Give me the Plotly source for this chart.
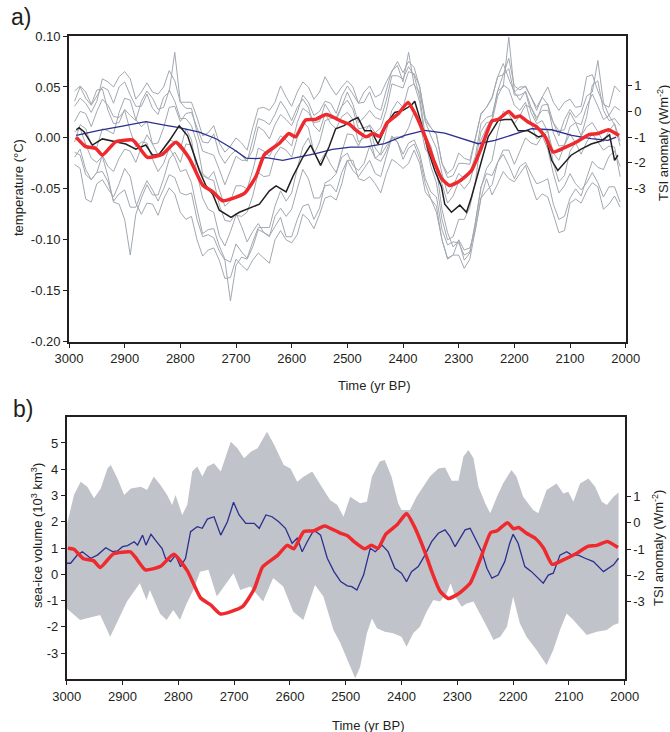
import plotly.graph_objects as go

# ---------------- Panel a: temperature ensemble ----------------
member_years = [2990, 2980, 2970, 2960, 2950, 2940, 2930, 2920, 2910, 2900,
                2890, 2880, 2870, 2860, 2850, 2840, 2830, 2820, 2810, 2800,
                2790, 2780, 2770, 2760, 2750, 2740, 2730, 2720, 2710, 2700,
                2690, 2680, 2670, 2660, 2650, 2640, 2630, 2620, 2610, 2600,
                2590, 2580, 2570, 2560, 2550, 2540, 2530, 2520, 2510, 2500,
                2490, 2480, 2470, 2460, 2450, 2440, 2430, 2420, 2410, 2400,
                2390, 2380, 2370, 2360, 2350, 2340, 2330, 2320, 2310, 2300,
                2290, 2280, 2270, 2260, 2250, 2240, 2230, 2220, 2210, 2200,
                2190, 2180, 2170, 2160, 2150, 2140, 2130, 2120, 2110, 2100,
                2090, 2080, 2070, 2060, 2050, 2040, 2030, 2020, 2010]

# ensemble members, in 10^-3 degC
member_1 = [36, 50, 39, 32, 41, 50, 47, 34, 50, 55, 42, 31, 31, 43, 29, 23, 40, 45, 84, 35,
            29, 29, 5, -13, -15, -17, -31, -46, -32, -18, -22, -22, -12, 11, 7, -1, 13, 23, 18, 12,
            25, 42, 35, 22, 26, 36, 34, 24, 41, 51, 43, 34, 35, 45, 30, 27, 47, 66, 71, 55,
            84, 52, 45, 16, 2, -10, -35, -55, -47, -35, -40, -34, -18, 14, 20, 22, 46, 50, 99, 45,
            37, 46, 30, 20, 27, 27, 15, 2, 18, 28, 20, 25, 41, 45, 76, 35, 22, 31, 27]
member_2 = [-14, -17, -36, -41, -34, -17, -28, -33, -20, -11, -13, -24, -9, 3, -6, -5, 10, 30, 31, 16,
            24, 25, 10, -4, -5, 4, -16, -25, -17, -12, -17, -23, -2, 19, 17, 13, 23, 36, 28, 17,
            30, 38, 30, 12, 6, 24, 14, 9, 21, 25, 18, -4, 0, 1, -20, -23, -13, 2, -4, -16,
            -5, -2, -15, -40, -53, -58, -90, -105, -102, -103, -115, -112, -83, -48, -35, -37, -24, -16, -27, -40,
            -28, -24, -35, -45, -43, -40, -65, -80, -77, -59, -50, -57, -39, -23, -29, -31, -18, -13, -28]
member_3 = [16, 26, 24, 11, 26, 38, 32, 21, 20, 27, 7, -9, -4, -5, -21, -33, -25, -10, -19, -33,
            -31, -44, -70, -94, -90, -89, -106, -119, -122, -104, -112, -118, -102, -88, -88, -88, -67, -52, -62, -54,
            -30, -9, 0, -16, -4, 17, 19, 20, 31, 45, 33, 15, 20, 27, 20, 18, 37, 61, 61, 58,
            70, 61, 40, 2, -8, -30, -70, -93, -107, -101, -120, -113, -83, -49, -30, -22, 6, 26, 23, 14,
            22, 32, 30, 17, 32, 33, 15, 7, 8, 25, 15, 2, 11, 15, 6, -4, 7, 14, -3]
member_4 = [-19, -11, -31, -41, -34, -33, -43, -62, -55, -51, -68, -68, -54, -42, -51, -62, -50, -36, -39, -54,
            -56, -54, -80, -97, -95, -98, -111, -120, -160, -125, -117, -119, -107, -90, -93, -97, -77, -69, -77, -70,
            -50, -31, -40, -59, -59, -47, -46, -53, -34, -22, -32, -38, -30, -22, -35, -38, -18, 0, 1, 0,
            10, 26, 15, -11, -18, -27, -45, -64, -57, -43, -50, -43, -23, 6, 15, 16, 41, 52, 48, 32,
            27, 35, 15, -1, 2, -11, -35, -54, -47, -35, -45, -51, -44, -34, -44, -58, -48, -48, -63]
member_5 = [6, 9, -6, -20, -24, -18, -38, -63, -65, -80, -115, -75, -59, -46, -56, -56, -40, -21, -14, -24,
            -6, -7, -25, -37, -40, -33, -51, -67, -62, -47, -47, -50, -32, -10, -13, -18, -7, 2, -2, -8,
            15, 29, 25, 15, 16, 33, 24, 17, 31, 37, 28, 9, 10, 12, -10, -17, -8, 0, -4, -21,
            -10, -6, -20, -45, -60, -67, -100, -119, -115, -115, -128, -119, -90, -59, -52, -46, -24, -12, -12, -26,
            -13, 0, -5, -7, 2, 7, -15, -22, -7, 11, 15, 13, 31, 43, 31, 18, 22, 13, -8]
member_6 = [46, 51, 45, 33, 47, 48, 27, 14, 15, 28, 22, 17, 36, 46, 39, 28, 30, 47, 36, 19,
            19, 12, -5, -35, -40, -42, -66, -81, -82, -74, -87, -102, -92, -84, -93, -96, -87, -78, -97, -97,
            -80, -67, -65, -80, -69, -44, -41, -35, -14, 4, 3, -8, 5, 13, 5, 10, 27, 53, 51, 49,
            65, 63, 50, 17, 10, 3, -25, -35, -30, -15, -20, -22, 0, 23, 30, 39, 60, 73, 58, 45,
            50, 50, 40, 27, 40, 33, 5, -8, -7, 4, -5, -16, -4, 4, -4, -12, -8, -9, -38]
member_7 = [-26, -30, -60, -63, -45, -41, -50, -58, -45, -30, -38, -64, -75, -64, -65, -76, -60, -49, -55, -73,
            -80, -77, -100, -116, -110, -108, -120, -138, -137, -119, -125, -130, -120, -113, -118, -123, -100, -91, -100, -103,
            -95, -75, -80, -89, -75, -59, -57, -61, -45, -22, -22, -40, -42, -38, -45, -54, -35, -21, -25, -30,
            -25, -12, -25, -53, -60, -73, -100, -118, -115, -100, -110, -108, -90, -59, -40, -56, -45, -33, -40, -43,
            -35, -27, -45, -61, -55, -58, -75, -93, -91, -64, -60, -64, -52, -44, -48, -70, -65, -57, -68]
member_8 = [-4, 13, 9, -7, -9, 9, 7, 4, 25, 39, 37, 18, 11, 16, -6, -17, -10, -2, -4, -11,
            9, -2, -35, -59, -70, -73, -96, -106, -92, -76, -77, -73, -57, -34, -38, -37, -17, -9, -12, -19,
            0, 16, 10, -14, -24, -15, -26, -34, -19, -15, -27, -32, -25, -8, -20, -15, 7, 27, 36, 30,
            50, 53, 35, -3, -28, -44, -80, -100, -97, -80, -80, -68, -43, -2, 10, 19, 46, 62, 68, 42,
            42, 45, 25, 14, 17, 6, -25, -43, -37, -13, -5, 2, 21, 52, 56, 27, 17, 19, 12]
member_9 = [31, 39, 34, 25, 36, 58, 55, 50, 60, 65, 58, 38, 45, 54, 45, 43, 50, 66, 56, 35,
            35, 35, 20, 2, 5, 12, -5, -14, -8, 0, -5, -12, 10, 29, 30, 27, 35, 51, 40, 31,
            45, 55, 50, 38, 45, 60, 50, 42, 50, 56, 50, 34, 45, 51, 40, 43, 55, 65, 75, 64,
            75, 69, 50, 20, 10, 4, -25, -39, -37, -25, -25, -26, 0, 24, 30, 40, 60, 62, 78, 51,
            47, 51, 40, 30, 40, 50, 35, 27, 35, 38, 30, 31, 60, 62, 46, 33, 30, 51, 45]
members_mK = [member_1, member_2, member_3, member_4, member_5,
              member_6, member_7, member_8, member_9]

# ensemble mean (black), degC
mean_years = [2987, 2982, 2973, 2958, 2940, 2916, 2898, 2880, 2862, 2850,
              2838, 2820, 2802, 2787, 2778, 2766, 2754, 2742, 2730, 2709,
              2694, 2676, 2658, 2640, 2628, 2610, 2598, 2580, 2566, 2548,
              2533, 2521, 2506, 2493, 2481, 2469, 2457, 2445, 2427, 2415,
              2400, 2385, 2379, 2367, 2355, 2343, 2331, 2325, 2313, 2298,
              2286, 2277, 2265, 2247, 2229, 2217, 2205, 2193, 2175, 2157,
              2145, 2133, 2122, 2110, 2098, 2080, 2062, 2044, 2029, 2020, 2014]
mean_temp = [0.008, 0.010, 0.006, -0.007, -0.001, -0.004, -0.006, -0.011, -0.007, -0.017,
             -0.016, -0.003, 0.012, 0.002, -0.012, -0.032, -0.047, -0.055, -0.071, -0.078,
             -0.073, -0.069, -0.065, -0.052, -0.047, -0.053, -0.038, -0.019, -0.007, -0.027,
             -0.009, 0.009, 0.012, 0.017, 0.020, 0.007, 0.007, -0.006, 0.016, 0.025,
             0.027, 0.032, 0.036, 0.014, -0.012, -0.032, -0.048, -0.065, -0.073, -0.066,
             -0.073, -0.058, -0.035, 0.001, 0.017, 0.018, 0.018, 0.007, 0.007, 0.001,
             0.003, -0.022, -0.032, -0.025, -0.017, -0.011, -0.006, -0.003, 0.003, -0.022, -0.017]

# blue curve, panel a (degC)
blue_a_years = [2987, 2946, 2904, 2862, 2826, 2802, 2766, 2736, 2706, 2682,
                2664, 2646, 2616, 2587, 2557, 2527, 2494, 2469, 2433, 2397,
                2361, 2325, 2295, 2265, 2235, 2205, 2169, 2133, 2097, 2062, 2032, 2017]
blue_a = [0.0025, 0.0074, 0.0116, 0.0159, 0.0123, 0.0100, 0.0057, -0.0008, -0.0106, -0.0198,
          -0.0204, -0.0194, -0.0221, -0.0188, -0.0155, -0.0113, -0.0090, -0.0090, -0.0057, 0.0025,
          0.0074, 0.0047, -0.0008, -0.0057, -0.0025, 0.0025, 0.0090, 0.0080, 0.0025, -0.0008,
          -0.0025, 0.0008]

# TSI anomaly (red), W m^-2
tsi_years = [2998, 2987, 2970, 2952, 2940, 2916, 2886, 2877, 2859, 2832,
             2808, 2784, 2760, 2742, 2724, 2685, 2664, 2649, 2622, 2605,
             2593, 2575, 2557, 2538, 2509, 2496, 2485, 2466, 2454, 2442,
             2428, 2408, 2391, 2378, 2360, 2345, 2331, 2316, 2298, 2277,
             2260, 2240, 2229, 2210, 2199, 2190, 2176, 2160, 2145, 2130,
             2109, 2085, 2066, 2050, 2031, 2012]
tsi = [-0.97, -1.01, -1.37, -1.44, -1.70, -1.18, -1.11, -1.31, -1.79, -1.66,
       -1.20, -1.82, -2.86, -3.12, -3.47, -3.19, -2.52, -1.68, -1.24, -0.86,
       -0.99, -0.33, -0.31, -0.12, -0.40, -0.50, -0.72, -0.99, -0.86, -0.97,
       -0.43, -0.08, 0.35, -0.10, -1.00, -1.90, -2.60, -2.88, -2.70, -2.30,
       -1.45, -0.37, -0.31, 0.00, -0.23, -0.18, -0.40, -0.60, -0.98, -1.58,
       -1.40, -1.15, -0.90, -0.86, -0.71, -0.94]

# ---------------- Panel b: sea-ice volume ----------------
band_upper_years = [2999, 2987, 2975, 2963, 2951, 2939, 2927, 2921, 2909, 2897,
                    2885, 2867, 2856, 2844, 2832, 2820, 2811, 2805, 2793, 2784,
                    2775, 2766, 2757, 2748, 2736, 2724, 2706, 2694, 2682, 2670,
                    2658, 2641, 2628, 2611, 2599, 2587, 2575, 2560, 2545, 2528,
                    2515, 2504, 2492, 2474, 2462, 2453, 2439, 2430, 2418, 2406,
                    2400, 2385, 2373, 2349, 2334, 2322, 2310, 2298, 2289, 2280,
                    2271, 2262, 2250, 2241, 2229, 2218, 2203, 2194, 2182, 2164,
                    2155, 2140, 2122, 2110, 2101, 2092, 2080, 2065, 2053, 2041,
                    2032, 2020, 2011]
band_upper = [1.94, 3.02, 3.52, 3.33, 2.89, 3.27, 4.03, 4.16, 3.65, 3.02,
              3.27, 3.33, 3.21, 3.72, 3.40, 3.02, 2.64, 3.02, 2.26, 2.64,
              3.91, 4.10, 3.72, 4.10, 4.23, 3.91, 5.05, 4.80, 4.42, 4.67,
              4.80, 5.43, 4.92, 4.16, 4.03, 3.52, 3.72, 3.91, 3.40, 2.83,
              2.64, 2.19, 2.95, 2.70, 2.76, 3.72, 4.29, 4.35, 3.72, 2.70,
              2.45, 2.45, 2.95, 3.72, 4.03, 4.07, 3.56, 3.56, 4.48, 4.73,
              4.42, 3.33, 2.70, 2.32, 2.95, 3.46, 3.97, 3.72, 2.95, 2.45,
              2.32, 3.21, 3.46, 3.08, 3.14, 2.76, 3.46, 3.65, 3.33, 2.76,
              2.64, 2.95, 3.11]
band_lower_years = [3000, 2976, 2940, 2922, 2892, 2869, 2857, 2851, 2833, 2821,
                    2809, 2797, 2785, 2773, 2761, 2746, 2731, 2701, 2689, 2671,
                    2648, 2630, 2612, 2594, 2576, 2555, 2540, 2522, 2510, 2492,
                    2483, 2474, 2462, 2453, 2444, 2430, 2415, 2400, 2391, 2379,
                    2367, 2355, 2343, 2331, 2319, 2312, 2304, 2292, 2283, 2271,
                    2259, 2247, 2235, 2223, 2211, 2200, 2188, 2176, 2158, 2140,
                    2128, 2116, 2104, 2092, 2068, 2050, 2032, 2020, 2011]
band_lower = [-1.30, -1.74, -1.55, -2.38, -1.04, -0.34, -0.98, -0.60, -1.49, -1.74,
              -1.36, -1.74, -1.11, -0.60, 0.10, 0.17, -0.85, 0.04, -0.60, -0.47,
              -1.04, -0.14, -0.47, -1.43, -1.74, -0.41, -0.85, -2.12, -2.60, -3.52,
              -3.96, -3.52, -2.25, -1.68, -2.06, -2.19, -2.25, -2.38, -2.76, -2.25,
              -2.00, -1.43, -0.98, -1.04, -0.72, -0.34, -0.85, -1.24, -1.11, -1.04,
              -1.49, -2.00, -2.50, -2.38, -2.00, -0.85, -1.87, -2.38, -2.88, -3.46,
              -2.88, -2.12, -1.49, -1.74, -2.31, -2.19, -2.12, -1.93, -1.87]

seaice_years = [3000, 2993, 2981, 2972, 2957, 2945, 2930, 2918, 2909, 2900,
                2891, 2879, 2873, 2864, 2858, 2849, 2841, 2829, 2823, 2814,
                2805, 2796, 2787, 2778, 2766, 2757, 2748, 2736, 2724, 2712,
                2701, 2691, 2679, 2664, 2655, 2643, 2632, 2620, 2608, 2596,
                2587, 2578, 2569, 2557, 2545, 2533, 2521, 2509, 2497, 2489,
                2480, 2468, 2456, 2447, 2435, 2424, 2412, 2400, 2391, 2382,
                2370, 2358, 2346, 2334, 2322, 2313, 2304, 2295, 2286, 2277,
                2268, 2256, 2247, 2238, 2227, 2215, 2206, 2200, 2191, 2179,
                2167, 2155, 2146, 2137, 2128, 2116, 2104, 2095, 2083, 2071,
                2056, 2038, 2029, 2020, 2011]
seaice_mean = [0.42, 0.42, 0.73, 0.86, 0.61, 0.73, 1.01, 0.86, 0.89, 1.05,
               1.09, 1.24, 1.11, 1.49, 1.11, 1.52, 1.30, 0.98, 0.61, 0.48,
               0.73, 0.29, 0.61, 1.62, 1.81, 1.75, 2.10, 2.19, 1.49, 2.00,
               2.74, 2.26, 1.94, 1.94, 1.75, 2.26, 2.19, 2.00, 1.75, 1.18,
               1.37, 0.86, 1.24, 1.69, 1.49, 0.61, 0.10, -0.28, -0.44, -0.47,
               -0.60, -0.03, 0.99, 0.86, 1.11, 0.86, 0.23, 0.04, -0.28, 0.10,
               0.29, 0.73, 1.24, 1.56, 1.69, 1.43, 1.05, 1.37, 1.69, 1.75,
               1.37, 0.86, 0.23, -0.15, -0.03, 0.48, 1.18, 1.52, 1.18, 0.29,
               0.10, -0.15, -0.34, -0.03, 0.04, 0.73, 0.86, 0.73, 0.73, 0.61,
               0.48, 0.10, 0.23, 0.36, 0.61]

x_ticks = [3000, 2900, 2800, 2700, 2600, 2500, 2400, 2300, 2200, 2100, 2000]
temp_ticks = [-0.20, -0.15, -0.10, -0.05, 0.00, 0.05, 0.10]
temp_ticktext = ["-0.20", "-0.15", "-0.10", "-0.05", "0.00", "0.05", "0.10"]
tsi_ticks = [1, 0, -1, -2, -3]
tsi_ticktext = ["1", "0", "-1", "-2", "-3"]
ice_ticks = [5, 4, 3, 2, 1, 0, -1, -2, -3]
ice_ticktext = ["5", "4", "3", "2", "1", "0", "-1", "-2", "-3"]

# ---------------- styles ----------------
INK = "#231f20"
GRAY_LINE = "#a2a8b0"
BAND = "#c0c3c9"
RED = "#ee2a2e"
BLUE = "#2b2f8f"
FONT = "Liberation Sans, Arial, sans-serif"
W, H = 670, 732

fig = go.Figure()

# panel a
for m in members_mK:
    fig.add_trace(go.Scatter(x=member_years, y=[v / 1000 for v in m], mode="lines",
                             line=dict(color=GRAY_LINE, width=1), xaxis="x", yaxis="y",
                             hoverinfo="skip", showlegend=False))
fig.add_trace(go.Scatter(x=blue_a_years, y=blue_a, mode="lines",
                         line=dict(color=BLUE, width=1.3), xaxis="x", yaxis="y", showlegend=False))
fig.add_trace(go.Scatter(x=mean_years, y=mean_temp, mode="lines",
                         line=dict(color=INK, width=1.5), xaxis="x", yaxis="y", showlegend=False))
tsi_a_years = [y for y in tsi_years if y <= 2990]
tsi_a = [v for y, v in zip(tsi_years, tsi) if y <= 2990]
fig.add_trace(go.Scatter(x=tsi_a_years, y=tsi_a, mode="lines",
                         line=dict(color=RED, width=3.5, shape="spline", smoothing=0.5),
                         xaxis="x", yaxis="y2", showlegend=False))

# panel b
fig.add_trace(go.Scatter(x=band_upper_years + band_lower_years[::-1],
                         y=band_upper + band_lower[::-1], mode="lines", fill="toself",
                         fillcolor=BAND, line=dict(width=0, color=BAND),
                         xaxis="x2", yaxis="y3", hoverinfo="skip", showlegend=False))
fig.add_trace(go.Scatter(x=seaice_years, y=seaice_mean, mode="lines",
                         line=dict(color=BLUE, width=1.3), xaxis="x2", yaxis="y3", showlegend=False))
fig.add_trace(go.Scatter(x=tsi_years, y=tsi, mode="lines",
                         line=dict(color=RED, width=3.5, shape="spline", smoothing=0.5),
                         xaxis="x2", yaxis="y4", showlegend=False))

tickfont = dict(family=FONT, size=13, color=INK)
common_x = dict(range=[3000, 2000], tickvals=x_ticks, ticks="outside", ticklen=4,
                tickwidth=1.2, tickcolor=INK, showline=True, linecolor=INK, linewidth=1.8,
                mirror=True, showgrid=False, zeroline=False, tickfont=tickfont)
common_y = dict(ticks="outside", ticklen=4, tickwidth=1.2, tickcolor=INK, showline=True,
                linecolor=INK, linewidth=1.8, showgrid=False, zeroline=False, tickfont=tickfont)

a_top, a_bot = 1 - 36 / H, 1 - 341.7 / H
b_top, b_bot = 1 - 416.7 / H, 1 - 679.3 / H

fig.update_layout(
    width=W, height=H, margin=dict(l=0, r=0, t=0, b=0),
    template="none", paper_bgcolor="white", plot_bgcolor="white",
    font=dict(family=FONT, size=13, color=INK), showlegend=False,
    xaxis=dict(domain=[69 / W, 625.7 / W], anchor="y", **common_x),
    yaxis=dict(domain=[a_bot, a_top], anchor="x", range=[-0.2, 0.1],
               tickvals=temp_ticks, ticktext=temp_ticktext, **common_y),
    yaxis2=dict(overlaying="y", side="right", anchor="x", range=[-8.95, 2.93],
                tickvals=tsi_ticks, ticktext=tsi_ticktext, **common_y),
    xaxis2=dict(domain=[66.7 / W, 624.7 / W], anchor="y3", **common_x),
    yaxis3=dict(domain=[b_bot, b_top], anchor="x2", range=[-4, 6],
                tickvals=ice_ticks, ticktext=ice_ticktext, **common_y),
    yaxis4=dict(overlaying="y3", side="right", anchor="x2", range=[-5.95, 4.03],
                tickvals=tsi_ticks, ticktext=tsi_ticktext, **common_y),
)

def ann(text, x, y, size=13, angle=0):
    fig.add_annotation(text=text, x=x / W, y=1 - y / H, xref="paper", yref="paper",
                       showarrow=False, textangle=angle, xanchor="center", yanchor="middle",
                       font=dict(family=FONT, size=size, color=INK))

ann("a)", 21, 17, size=23)
ann("b)", 23, 409, size=23)
ann("temperature (°C)", 18, 188, angle=-90)
ann("TSI anomaly (Wm<sup>-2</sup>)", 663, 143, angle=-90)
ann("Time (yr BP)", 374, 385)
ann("sea-ice volume (10<sup>3</sup> km<sup>3</sup>)", 37, 536, angle=-90)
ann("TSI anomaly (Wm<sup>-2</sup>)", 658, 548, angle=-90)
ann("Time (yr BP)", 368, 725)

fig.write_html("out.html", config={"displayModeBar": False},
               post_script="document.body.style.margin='0';document.body.style.overflow='hidden';")
